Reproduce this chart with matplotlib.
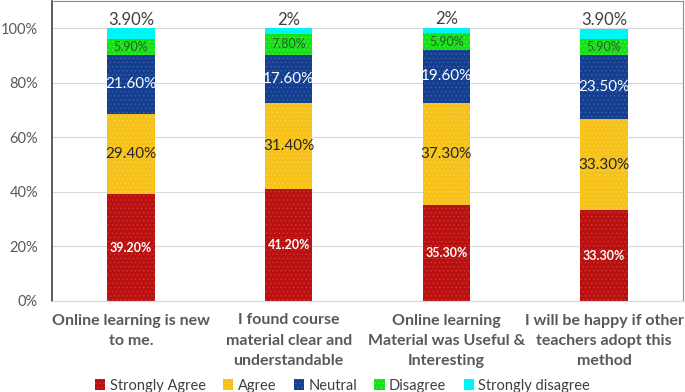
import matplotlib.pyplot as plt
import numpy as np

plt.rcParams["font.family"] = ["Lato", "DejaVu Sans"]
plt.rcParams["hatch.linewidth"] = 0.4

# Survey responses (percent)
CATEGORIES = [
    "Online learning is new\nto me.",
    "I found course\nmaterial clear and\nunderstandable",
    "Online learning\nMaterial was Useful &\nInteresting",
    "I will be happy if other\nteachers adopt this\nmethod",
]
STRONGLY_AGREE = [39.2, 41.2, 35.3, 33.3]
AGREE = [29.4, 31.4, 37.3, 33.3]
NEUTRAL = [21.6, 17.6, 19.6, 23.5]
DISAGREE = [5.9, 7.8, 5.9, 5.9]
STRONGLY_DISAGREE = [3.9, 2, 2, 3.9]
SD_LABELS = ["3.90%", "2%", "2%", "3.90%"]

SERIES = [
    ("Strongly Agree", STRONGLY_AGREE, "#BA1010", "#CC4040", "white", 9, "bold"),
    ("Agree", AGREE, "#F6C21A", "#F9D45A", "#262626", 11, "normal"),
    ("Neutral", NEUTRAL, "#143E90", "#4668AA", "white", 11, "normal"),
    ("Disagree", DISAGREE, "#18E018", "#60EC60", "#2F5A2F", 9, "normal"),
    ("Strongly disagree", STRONGLY_DISAGREE, "#00F5F5", "#00F5F5", None, 0, "normal"),
]

fig = plt.figure(figsize=(6.85, 3.92), dpi=100)
ax = fig.add_axes([52 / 685, 1 - 301 / 392, 631 / 685, 300 / 392])

x = np.arange(len(CATEGORIES))
bottom = np.zeros(len(CATEGORIES))
for name, vals, color, dot, tcolor, fsize, weight in SERIES:
    vals = np.array(vals, dtype=float)
    ax.bar(x, vals, 0.30, bottom=bottom, color=color, edgecolor=dot,
           linewidth=0, hatch="....", label=name)
    if tcolor is not None:
        for xi, b, v in zip(x, bottom, vals):
            ax.text(xi, b + v / 2, f"{v:.2f}%", ha="center", va="center",
                    color=tcolor, fontsize=fsize, fontweight=weight)
    bottom += vals

for xi, top, lab in zip(x, bottom, SD_LABELS):
    ax.text(xi, top + 0.2, lab, ha="center", va="bottom", color="#404040", fontsize=12)

ax.set_xlim(-0.5, len(CATEGORIES) - 0.5)
ax.set_ylim(0, 110)
ax.set_yticks(np.arange(0, 101, 20))
ax.set_yticklabels([f"{v}%" for v in range(0, 101, 20)], color="#595959", fontsize=10.5)
ax.set_xticks(x)
ax.set_xticklabels(CATEGORIES, fontsize=11.5, fontweight="bold", color="#595959",
                   linespacing=1.55)
ax.tick_params(axis="both", length=0)
ax.tick_params(axis="x", pad=9)
ax.tick_params(axis="y", pad=10)
ax.grid(axis="y", color="#D9D9D9", linewidth=0.8)
ax.set_axisbelow(True)

ax.spines["left"].set_color("#404040")
ax.spines["left"].set_linewidth(1.2)
ax.spines["top"].set_color("#8C8C8C")
ax.spines["right"].set_color("#8C8C8C")
ax.spines["bottom"].set_color("#D9D9D9")

handles, labels = ax.get_legend_handles_labels()
fig.legend(handles, labels, loc="lower center", bbox_to_anchor=(0.5, -0.035),
           ncol=5, frameon=False, fontsize=10.5, labelcolor="#404040",
           handlelength=0.7, handleheight=0.7, handletextpad=0.3,
           columnspacing=1.2)

fig.savefig("out.png", dpi=100)
